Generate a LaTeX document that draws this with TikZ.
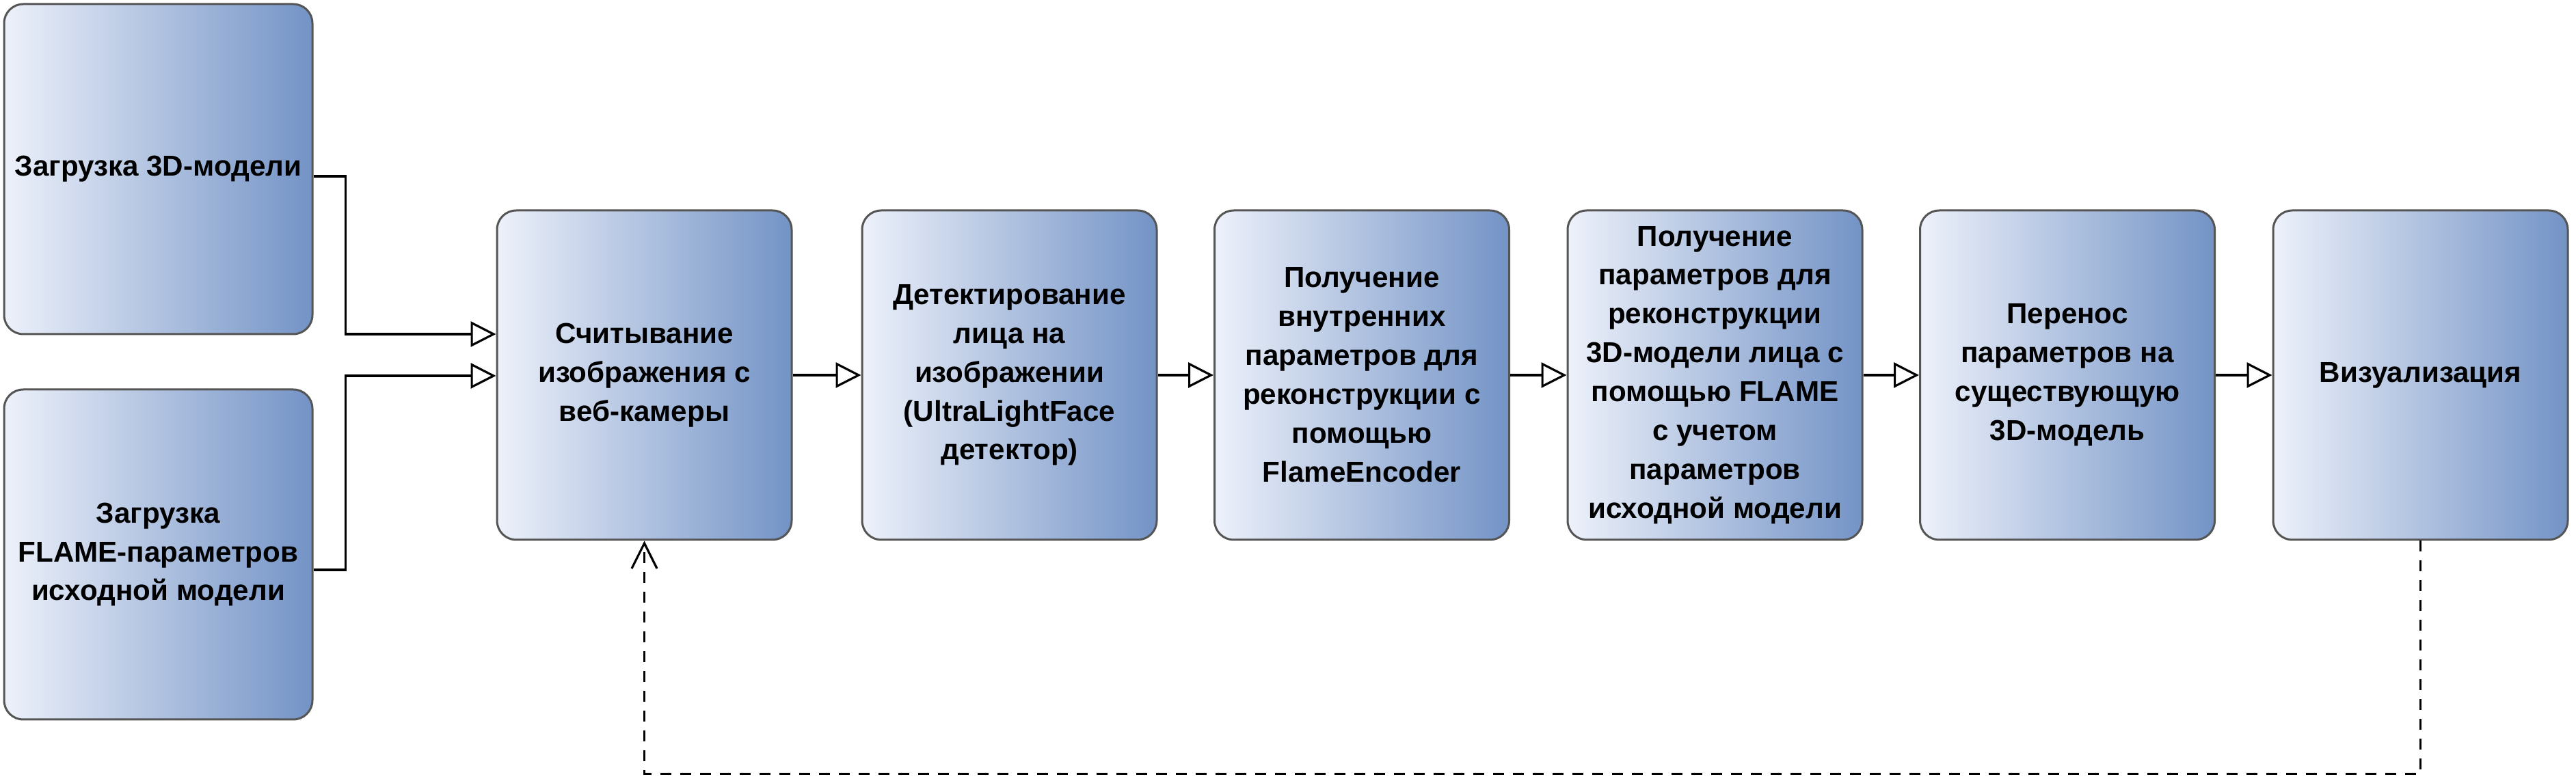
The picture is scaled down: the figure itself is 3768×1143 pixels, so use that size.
\documentclass[tikz,border=0pt]{standalone}
\usepackage{fontspec}
\setmainfont{Liberation Sans}
\usetikzlibrary{arrows.meta}
\definecolor{gl}{HTML}{EDF1FA}
\definecolor{gr}{HTML}{7393C6}
\definecolor{bd}{HTML}{555555}
\begin{document}
\begin{tikzpicture}[x=0.1mm, y=-0.1mm,
  blk/.style={draw=bd, line width=0.3mm, rounded corners=2.8mm, left color=gl, right color=gr,
    inner sep=0pt, align=center, font=\bfseries\fontsize{12pt}{16.2pt}\selectfont,
    minimum width=43.1mm, minimum height=48.2mm},
  arr/.style={line width=0.32mm, -{Triangle[length=3.7mm, width=3.7mm, fill=white]}},
  fb/.style={line width=0.32mm, dash pattern=on 1.6mm off 1.3mm, -{Straight Barb[length=3.7mm, width=3.7mm]}}
]
\useasboundingbox (0,0) rectangle (3768,1143);

\node[blk, minimum width=45.1mm, minimum height=48.3mm] (b1) at (231.5,247.5) {Загрузка 3D-модели};
\node[blk, minimum width=45.1mm, minimum height=48.3mm] (b2) at (231.5,811.5) {Загрузка\\FLAME-параметров\\исходной модели};

\node[blk] (b3) at (942.5,549) {Считывание\\изображения с\\веб-камеры};
\node[blk] (b4) at (1476.5,549) {Детектирование\\лица на\\изображении\\(UltraLightFace\\детектор)};
\node[blk] (b5) at (1992,549) {Получение\\внутренних\\параметров для\\реконструкции с\\помощью\\FlameEncoder};
\node[blk] (b6) at (2508.5,549) {Получение\\параметров для\\реконструкции\\3D-модели лица с\\помощью FLAME\\с учетом\\параметров\\исходной модели};
\node[blk] (b7) at (3024,549) {Перенос\\параметров на\\существующую\\3D-модель};
\node[blk] (b8) at (3540.5,549) {Визуализация};

\draw[arr] ([yshift=-1.05mm]b1.east) -- ++(4.7mm,0) |- ([yshift=6mm]b3.west);
\draw[arr] ([yshift=-2.25mm]b2.east) -- ++(4.7mm,0) |- ([yshift=-0.1mm]b3.west);

\draw[arr] (b3) -- (b4);
\draw[arr] (b4) -- (b5);
\draw[arr] (b5) -- (b6);
\draw[arr] (b6) -- (b7);
\draw[arr] (b7) -- (b8);

\draw[fb] (b8.south) -- ++(0,341) -| (b3.south);
\end{tikzpicture}
\end{document}
